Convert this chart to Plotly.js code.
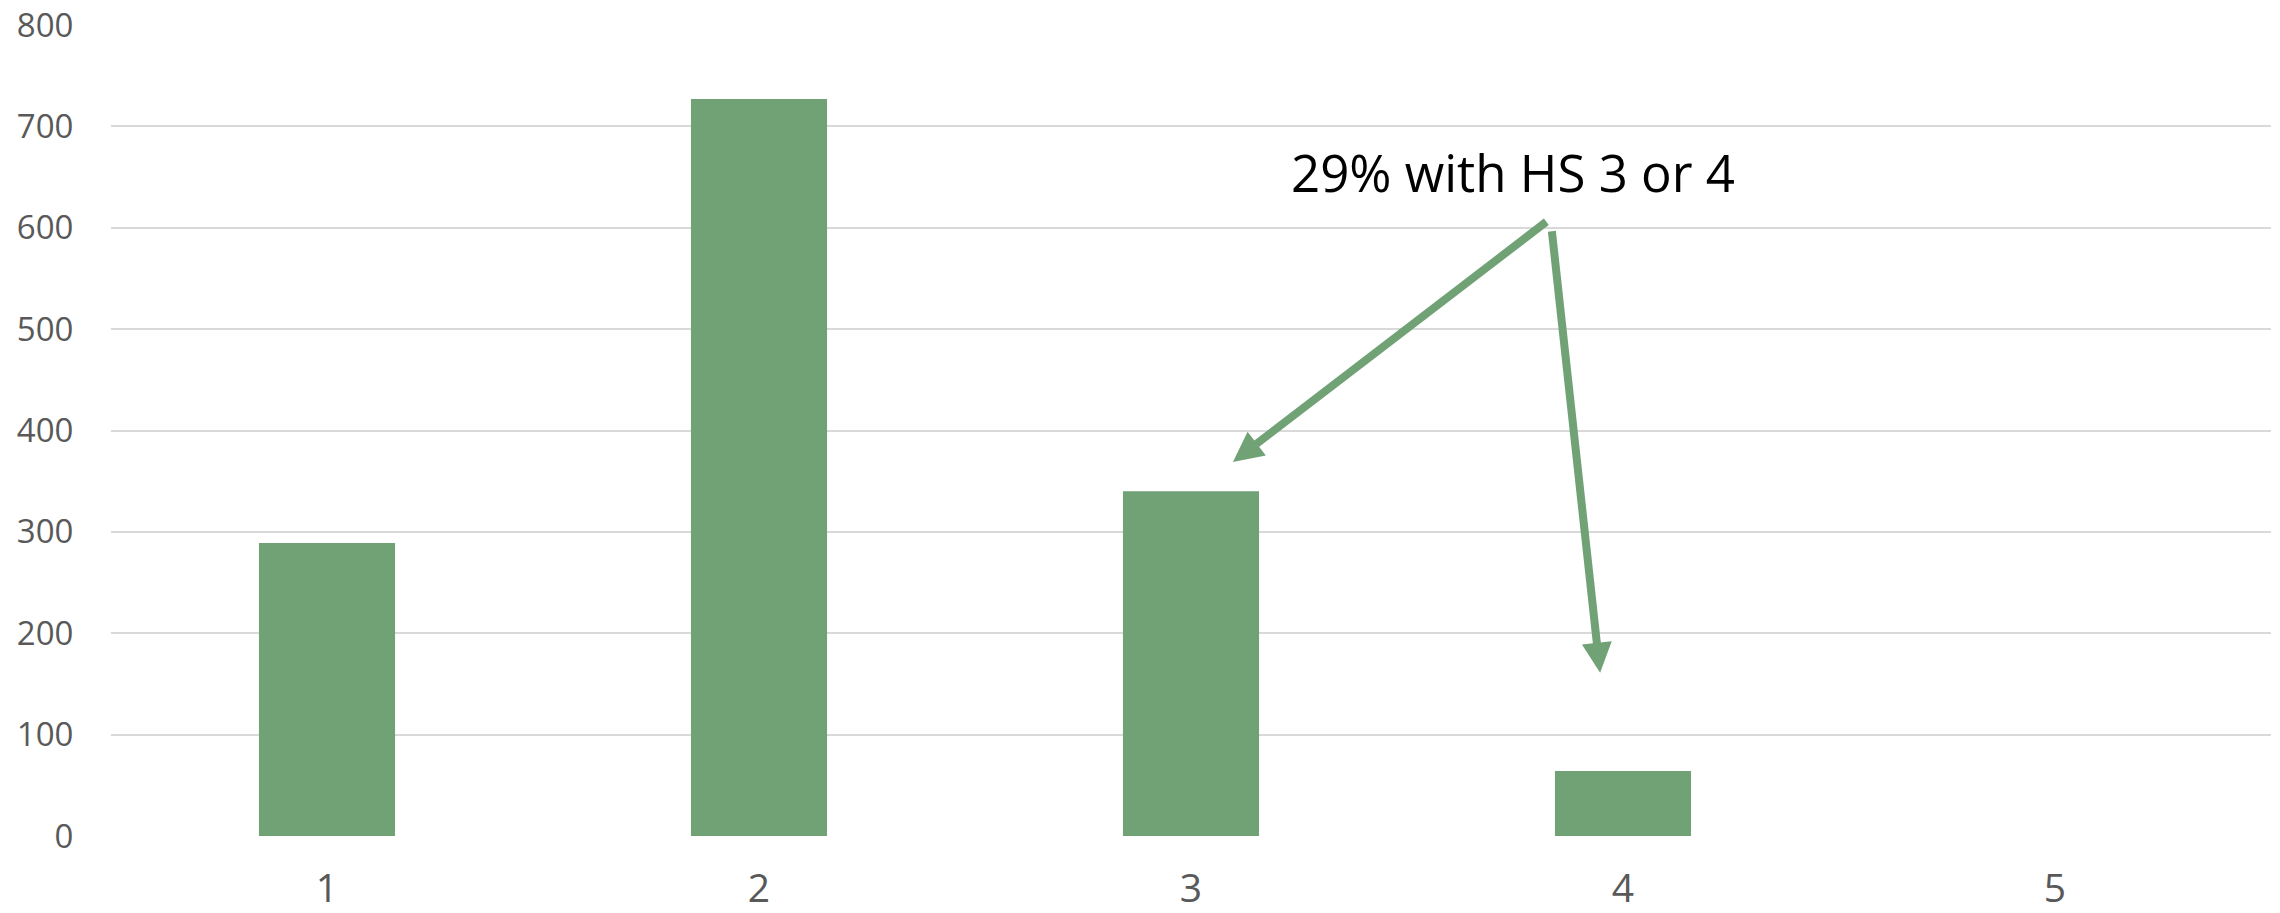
<!DOCTYPE html>
<html>
<head>
<meta charset="utf-8">
<script src="https://cdn.plot.ly/plotly-3.0.1.min.js"></script>
<style>html,body{margin:0;padding:0;background:#fff;}#chart{width:2280px;height:913px;}</style>
</head>
<body>
<div id="chart"></div>
<script>
const categories = ["1", "2", "3", "4", "5"];
const counts = [289, 727, 340, 64, 0];
const yTicks = [0, 100, 200, 300, 400, 500, 600, 700, 800];
const noteText = "29% with HS 3 or 4";

const barColor = "#71a276";
const xs = categories.map(Number);

const trace = {
  type: "bar",
  x: xs,
  y: counts,
  marker: {color: barColor},
  hoverinfo: "skip"
};

const layout = {
  width: 2280,
  height: 913,
  margin: {l: 111, r: 9, t: 25, b: 77},
  paper_bgcolor: "#fff",
  plot_bgcolor: "#fff",
  bargap: 0.685,
  showlegend: false,
  font: {family: "Open Sans, Noto Sans, sans-serif", color: "#595959"},
  xaxis: {
    range: [0.5, 5.5],
    tickvals: xs,
    ticktext: categories,
    showgrid: false,
    zeroline: false,
    showline: false,
    ticks: "outside",
    ticklen: 18,
    tickcolor: "rgba(0,0,0,0)",
    tickfont: {size: 39, color: "#595959"}
  },
  yaxis: {
    range: [0, 800],
    tickvals: yTicks,
    ticktext: yTicks.map(String),
    showgrid: true,
    gridcolor: "#d9d9d9",
    gridwidth: 2,
    zeroline: false,
    showline: false,
    ticks: "outside",
    ticklen: 30,
    tickcolor: "rgba(0,0,0,0)",
    tickfont: {size: 33, color: "#595959"}
  },
  annotations: [
    {
      x: 3.097, y: 369, xref: "x", yref: "y",
      ax: 3.826, ay: 607, axref: "x", ayref: "y",
      showarrow: true, arrowhead: 2, arrowsize: 0.75, arrowwidth: 8,
      arrowcolor: barColor, text: ""
    },
    {
      x: 3.947, y: 161, xref: "x", yref: "y",
      ax: 3.835, ay: 598, axref: "x", ayref: "y",
      showarrow: true, arrowhead: 2, arrowsize: 0.75, arrowwidth: 8,
      arrowcolor: barColor, text: ""
    },
    {
      x: 3.745, y: 655, xref: "x", yref: "y",
      showarrow: false, text: noteText,
      font: {size: 51, color: "#000", family: "Open Sans, Noto Sans, sans-serif"},
      xanchor: "center", yanchor: "middle"
    }
  ]
};

Plotly.newPlot("chart", [trace], layout, {staticPlot: true, displayModeBar: false});
</script>
</body>
</html>
